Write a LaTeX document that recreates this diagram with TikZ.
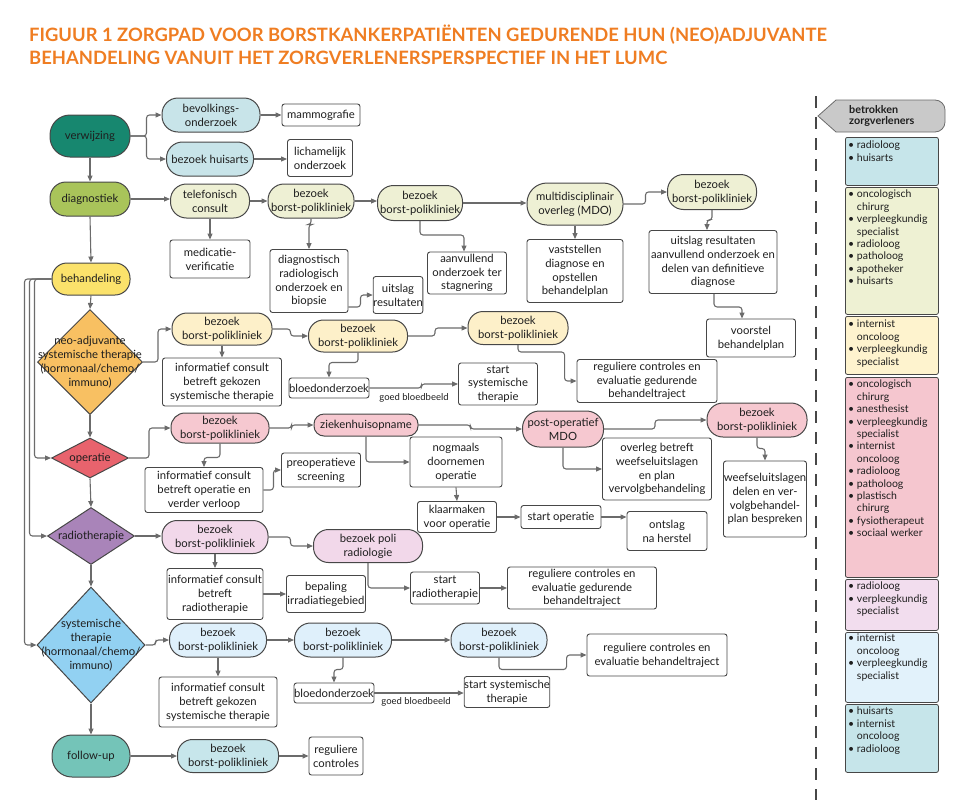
\documentclass[tikz,border=0pt]{standalone}
\usepackage{fontspec}
\setmainfont{Lato}
\usetikzlibrary{arrows.meta,shapes.geometric,calc}
\definecolor{titlec}{HTML}{EF7D22}
\definecolor{bordc}{HTML}{474747}
\definecolor{linec}{HTML}{6B6B6B}
\definecolor{txtc}{HTML}{1E1E1E}
\definecolor{verwc}{HTML}{17876F}
\definecolor{diagc}{HTML}{A9C45A}
\definecolor{behc}{HTML}{FBE26B}
\definecolor{neoc}{HTML}{F8C062}
\definecolor{opc}{HTML}{E8636D}
\definecolor{radc}{HTML}{A984B9}
\definecolor{sysc}{HTML}{92D1F2}
\definecolor{fuc}{HTML}{74C4B8}
\definecolor{bevl}{HTML}{C8E4E9}
\definecolor{diagl}{HTML}{EEF0D4}
\definecolor{neol}{HTML}{FDF0C9}
\definecolor{opl}{HTML}{F6C8D0}
\definecolor{radl}{HTML}{F2D8EA}
\definecolor{sysl}{HTML}{DFF0FB}
\definecolor{ful}{HTML}{C7E6EB}
\definecolor{pa}{HTML}{C6E5EA}
\definecolor{pb}{HTML}{EEF1D3}
\definecolor{pc}{HTML}{FEF3CE}
\definecolor{pd}{HTML}{F5C6CF}
\definecolor{pe}{HTML}{F2DDEE}
\definecolor{pf}{HTML}{E2F2FB}
\definecolor{hdrc}{HTML}{C9C9C9}
\newcommand\nfont{\fontsize{11.3}{13.8}\selectfont}
\newcommand\pfont{\fontsize{10.5}{12.4}\selectfont}
\newcommand\pind{\phantom{\textbullet\ }}
\tikzset{
  arr/.style={draw=linec, line width=1.1pt, -{Triangle[length=6pt,width=5pt]}, rounded corners=3pt},
  pillbase/.style={draw=bordc, line width=1pt, align=center, inner sep=0pt, font=\nfont, text=txtc},
  boxbase/.style={draw=bordc, line width=0.9pt, fill=white, rounded corners=2.5pt, align=center, inner sep=0pt, font=\nfont, text=txtc},
  diabase/.style={diamond, draw=bordc, line width=1pt, inner sep=0pt},
  panelbox/.style={draw=bordc, line width=0.8pt, rounded corners=2pt, inner sep=0pt, anchor=north west, minimum width=93pt},
  paneltext/.style={anchor=north west, align=left, inner sep=0pt, font=\pfont, text=txtc},
  gblabel/.style={font=\fontsize{9.5}{11}\selectfont, text=txtc, inner sep=0pt},
  titletext/.style={anchor=base west, inner sep=0pt, text=titlec, font=\fontsize{18.4}{21}\selectfont\bfseries}
}
\newcommand\mkpill[8]{\node[pillbase, fill=#7, minimum width=#4pt, minimum height=#5pt, rounded corners=#6pt] (#1) at (#2,#3) {#8};}
\newcommand\mkbox[6]{\node[boxbase, minimum width=#4pt, minimum height=#5pt] (#1) at (#2,#3) {#6};}
\newcommand\mkdia[7]{\node[diabase, fill=#6, minimum width=#4pt, minimum height=#5pt] (#1) at (#2,#3) {};\node[font=\nfont, align=center, inner sep=0pt, text=txtc] (#1t) at (#1) {#7};}
\begin{document}
\begin{tikzpicture}[x=1pt,y=-1pt]
\useasboundingbox (0,0) rectangle (960,806);
% title
\node[titletext] (t1) at (29,41) {FIGUUR 1 ZORGPAD VOOR BORSTKANKERPATIËNTEN GEDURENDE HUN (NEO)ADJUVANTE};
\node[titletext] (t2) at (29,64) {BEHANDELING VANUIT HET ZORGVERLENERSPERSPECTIEF IN HET LUMC};

% left column
\mkpill{verw}{90}{136}{80}{42}{20}{verwc}{verwijzing}
\mkpill{diag}{90}{199}{80}{34}{16}{diagc}{diagnostiek}
\mkpill{beh}{91}{279}{78}{32}{15}{behc}{behandeling}
\mkdia{neo}{90}{362}{105}{105}{neoc}{neo-adjuvante\\systemische therapie\\(hormonaal/chemo/\\immuno)}
\mkdia{opd}{90}{458}{77}{40}{opc}{operatie}
\mkdia{radd}{91}{536}{87}{57}{radc}{radiotherapie}
\mkdia{sysd}{91}{645}{108}{116}{sysc}{systemische\\therapie\\(hormonaal/chemo/\\immuno)}
\mkpill{fu}{91}{756}{78}{42}{20}{fuc}{follow-up}

% row 1
\mkpill{bev}{211}{115}{98}{34}{16}{bevl}{bevolkings-\\onderzoek}
\mkpill{hui}{210}{159}{87}{34}{16}{bevl}{bezoek huisarts}
\mkbox{mam}{321}{115}{78}{22}{mammografie}
\mkbox{lich}{320}{158}{65}{37}{lichamelijk\\onderzoek}

% row 2
\mkpill{tel}{210}{201}{79}{34}{16}{diagl}{telefonisch\\consult}
\mkbox{med}{210}{259}{80}{38}{medicatie-\\verificatie}
\mkpill{bp1}{311}{201}{86}{34}{16}{diagl}{bezoek\\borst-polikliniek}
\mkbox{drob}{309}{281}{78}{63}{diagnostisch\\radiologisch\\onderzoek en\\biopsie}
\mkbox{uits}{398}{295}{48}{37}{uitslag\\resultaten}
\mkpill{bp2}{420}{203}{85}{35}{16}{diagl}{bezoek\\borst-polikliniek}
\mkbox{aanv}{467}{273}{79}{42}{aanvullend\\onderzoek ter\\stagnering}
\mkpill{mdo}{575}{204}{96}{42}{20}{diagl}{multidisciplinair\\overleg (MDO)}
\mkbox{vast}{575}{271}{96}{63}{vaststellen\\diagnose en\\opstellen\\behandelplan}
\mkpill{bp3}{712}{192}{89}{35}{16}{diagl}{bezoek\\borst-polikliniek}
\mkbox{uitr}{713}{262}{128}{63}{uitslag resultaten\\aanvullend onderzoek en\\delen van definitieve\\diagnose}
\mkbox{voor}{751}{338}{89}{38}{voorstel\\behandelplan}

% row 3 neo-adjuvant
\mkpill{n1}{222}{329}{100}{32}{15}{neol}{bezoek\\borst-polikliniek}
\mkbox{ninf}{222}{382}{119}{48}{informatief consult\\betreft gekozen\\systemische therapie}
\mkpill{n2}{358}{336}{99}{32}{15}{neol}{bezoek\\borst-polikliniek}
\mkbox{nblo}{329}{388}{79}{20}{bloedonderzoek}
\node[gblabel] (gb1) at (414,398) {goed bloedbeeld};
\mkbox{nstart}{498}{384}{79}{42}{start\\systemische\\therapie}
\mkpill{n3}{518}{328}{100}{33}{15}{neol}{bezoek\\borst-polikliniek}
\mkbox{nreg}{647}{381}{140}{43}{reguliere controles en\\evaluatie gedurende\\behandeltraject}

% row 4 operatie
\mkpill{o1}{220}{428}{98}{30}{14}{opl}{bezoek\\borst-polikliniek}
\mkbox{oinf}{204}{490}{118}{45}{informatief consult\\betreft operatie en\\verder verloop}
\mkbox{opre}{321}{470}{79}{34}{preoperatieve\\screening}
\mkpill{zkh}{366}{425}{104}{22}{10}{opl}{ziekenhuisopname}
\mkbox{nogm}{456}{462}{92}{50}{nogmaals\\doornemen\\operatie}
\mkbox{klaar}{457}{517}{79}{31}{klaarmaken\\voor operatie}
\mkbox{sop}{561}{517}{80}{23}{start operatie}
\mkpill{pmdo}{563}{429}{81}{36}{17}{opl}{post-operatief\\MDO}
\mkbox{overl}{657}{469}{109}{62}{overleg betreft\\weefseluitslagen\\en plan\\vervolgbehandeling}
\mkbox{onts}{667}{531}{80}{39}{ontslag\\na herstel}
\mkpill{o3}{757}{420}{100}{34}{16}{opl}{bezoek\\borst-polikliniek}
\mkbox{weef}{765}{499}{83}{76}{weefseluitslagen\\delen en ver-\\volgbehandel-\\plan bespreken}

% row 5 radiotherapie
\mkpill{r1}{215}{537}{106}{33}{15}{radl}{bezoek\\borst-polikliniek}
\mkbox{rinf}{215}{594}{96}{51}{informatief consult\\betreft\\radiotherapie}
\mkbox{bep}{326}{594}{79}{37}{bepaling\\irradiatiegebied}
\mkpill{rpoli}{368}{546}{109}{33}{15}{radl}{bezoek poli\\radiologie}
\mkbox{rstart}{445}{588}{69}{32}{start\\radiotherapie}
\mkbox{rreg}{582}{588}{149}{42}{reguliere controles en\\evaluatie gedurende\\behandeltraject}

% row 6 systemisch
\mkpill{s1}{218}{640}{97}{34}{16}{sysl}{bezoek\\borst-polikliniek}
\mkbox{sinf}{218}{702}{118}{50}{informatief consult\\betreft gekozen\\systemische therapie}
\mkpill{s2}{343}{640}{97}{34}{16}{sysl}{bezoek\\borst-polikliniek}
\mkbox{sblo}{334}{693}{77}{20}{bloedonderzoek}
\node[gblabel] (gb2) at (416,702) {goed bloedbeeld};
\mkbox{sstart}{507}{692}{80}{31}{start systemische\\therapie}
\mkpill{s3}{499}{640}{96}{34}{16}{sysl}{bezoek\\borst-polikliniek}
\mkbox{sreg}{657}{655}{140}{42}{reguliere controles en\\evaluatie behandeltraject}

% row 7 follow-up
\mkpill{f1}{228}{756}{101}{33}{15}{ful}{bezoek\\borst-polikliniek}
\mkbox{freg}{336}{756}{54}{38}{reguliere\\controles}

% main chain
\draw[arr] (verw.south) -- (diag.north);
\draw[arr] (diag.south) -- (beh.north);
\draw[arr] (beh.south) -- (neo.north);
\draw[arr] (neo.south) -- (opd.north);
\draw[arr] (opd.south) -- (radd.north);
\draw[arr] (radd.south) -- (sysd.north);
\draw[arr] (sysd.south) -- (fu.north);
\draw[arr] (beh.west) -- ++(-17,0) |- (opd.west);
\draw[arr] (beh.west) -- ++(-22,0) |- (radd.west);
\draw[arr] (beh.west) -- ++(-27,0) |- (sysd.west);

% row 1 connectors
\draw[arr] (verw.east) -- ++(16,0) |- (bev.west);
\draw[arr] (verw.east) -- ++(16,0) |- (hui.west);
\draw[arr] (bev.east) -- (bev.east -| mam.west);
\draw[arr] (hui.east) -- (hui.east -| lich.west);

% row 2 connectors
\draw[arr] (diag.east) -- (diag.east -| tel.west);
\draw[arr] (tel.south) -- (med.north);
\draw[arr] (tel.east) -- (tel.east -| bp1.west);
\draw[arr] (bp1.south) -- ++(0,6) -| (drob.north);
\draw[arr] ([yshift=-26pt]drob.east) -- ++(12,0) |- (uits.west);
\draw[arr] (bp1.east) -- (bp1.east -| bp2.west);
\draw[arr] (bp2.south) -- ++(0,14) -| ([xshift=-3pt]aanv.north);
\draw[arr] (bp2.east) -- (bp2.east -| mdo.west);
\draw[arr] (mdo.south) -- (vast.north);
\draw[arr] (mdo.east) -- ++(22,0) |- (bp3.west);
\draw[arr] (bp3.south) -- ++(0,10) -| ([xshift=-6pt]uitr.north);
\draw[arr] ([xshift=1pt]uitr.south) -- ++(0,13) -| ([xshift=-9pt]voor.north);

% row 3 connectors
\draw[arr] (neo.east) -- ++(15,0) |- (n1.west);
\draw[arr] (n1.south) -- (ninf.north);
\draw[arr] (n1.east) -- ++(18,0) |- (n2.west);
\draw[arr] (n2.south) -- ++(0,10) -| (nblo.north);
\draw[arr] (nblo.east) -- ++(52,0) |- (nstart.west);
\draw[arr] (n2.east) -- ++(27,0) |- (n3.west);
\draw[arr] (n3.south) -- ++(0,7) -| ([xshift=-12pt]nreg.west) -- (nreg.west);

% row 4 connectors
\draw[arr] (opd.east) -- ++(20,0) |- (o1.west);
\draw[arr] (o1.south) -- ++(0,14) -| (oinf.north);
\draw[arr] (oinf.east) -- ++(10,0) |- (opre.west);
\draw[arr] (o1.east) -- ++(22,0) |- (zkh.west);
\draw[arr] (zkh.south) |- (nogm.west);
\draw[arr] (nogm.south) -- (klaar.north);
\draw[arr] (klaar.east) -- (klaar.east -| sop.west);
\draw[arr] (zkh.east) -- ++(52,0) |- (pmdo.west);
\draw[arr] (pmdo.south) |- (overl.west);
\draw[arr] (sop.east) -- (sop.east -| onts.west);
\draw[arr] (pmdo.east) -- ++(51,0) |- (o3.west);
\draw[arr] (o3.south) -- ++(0,11) -| (weef.north);

% row 5 connectors
\draw[arr] (radd.east) -- (radd.east -| r1.west);
\draw[arr] (r1.south) -- (rinf.north);
\draw[arr] (rinf.east) -- (rinf.east -| bep.west);
\draw[arr] (r1.east) -- ++(22,0) |- (rpoli.west);
\draw[arr] (rpoli.south) |- (rstart.west);
\draw[arr] (rstart.east) -- (rstart.east -| rreg.west);

% row 6 connectors
\draw[arr] (sysd.east) -- ++(10,0) |- (s1.west);
\draw[arr] (s1.south) -- (sinf.north);
\draw[arr] (s1.east) -- (s1.east -| s2.west);
\draw[arr] (s2.south) -- ++(0,12) -| (sblo.north);
\draw[arr] (sblo.east) -- (sblo.east -| sstart.west);
\draw[arr] (s2.east) -- (s2.east -| s3.west);
\draw[arr] (s3.south) -- ++(0,12) -| ([xshift=-20pt]sreg.west) -- (sreg.west);

% row 7 connectors
\draw[arr] (fu.east) -- (fu.east -| f1.west);
\draw[arr] (f1.east) -- (f1.east -| freg.west);

% right panel
\draw[draw=bordc, line width=2.2pt, dash pattern=on 12pt off 9pt] (816,96) -- (816,800);
\draw[draw=linec, fill=hdrc, line width=0.8pt] (818,116) -- (836,100) [rounded corners=10pt] -- (945,100) -- (945,132) [sharp corners] -- (836,132) -- cycle;
\node[anchor=west, align=left, inner sep=0pt, text=txtc, font=\fontsize{10.8}{11.8}\selectfont\bfseries] (hdr) at (849,116) {betrokken\\zorgverleners};

\node[panelbox, fill=pa, minimum height=48pt] (pb1) at (845,137) {};
\node[panelbox, fill=pb, minimum height=127pt] (pb2) at (845,187) {};
\node[panelbox, fill=pc, minimum height=58pt] (pb3) at (845,316) {};
\node[panelbox, fill=pd, minimum height=200pt] (pb4) at (845,377) {};
\node[panelbox, fill=pe, minimum height=51pt] (pb5) at (845,579) {};
\node[panelbox, fill=pf, minimum height=70pt] (pb6) at (845,632) {};
\node[panelbox, fill=pa, minimum height=68pt] (pb7) at (845,704) {};

\node[paneltext] (pt1) at (848,141) {\textbullet\ radioloog\\\textbullet\ huisarts};
\node[paneltext] (pt2) at (848,190) {\textbullet\ oncologisch\\\pind chirurg\\\textbullet\ verpleegkundig\\\pind specialist\\\textbullet\ radioloog\\\textbullet\ patholoog\\\textbullet\ apotheker\\\textbullet\ huisarts};
\node[paneltext] (pt3) at (848,320) {\textbullet\ internist\\\pind oncoloog\\\textbullet\ verpleegkundig\\\pind specialist};
\node[paneltext] (pt4) at (848,380) {\textbullet\ oncologisch\\\pind chirurg\\\textbullet\ anesthesist\\\textbullet\ verpleegkundig\\\pind specialist\\\textbullet\ internist\\\pind oncoloog\\\textbullet\ radioloog\\\textbullet\ patholoog\\\textbullet\ plastisch\\\pind chirurg\\\textbullet\ fysiotherapeut\\\textbullet\ sociaal werker};
\node[paneltext] (pt5) at (848,582) {\textbullet\ radioloog\\\textbullet\ verpleegkundig\\\pind specialist};
\node[paneltext] (pt6) at (848,634) {\textbullet\ internist\\\pind oncoloog\\\textbullet\ verpleegkundig\\\pind specialist};
\node[paneltext] (pt7) at (848,707) {\textbullet\ huisarts\\\textbullet\ internist\\\pind oncoloog\\\textbullet\ radioloog};
\end{tikzpicture}
\end{document}
